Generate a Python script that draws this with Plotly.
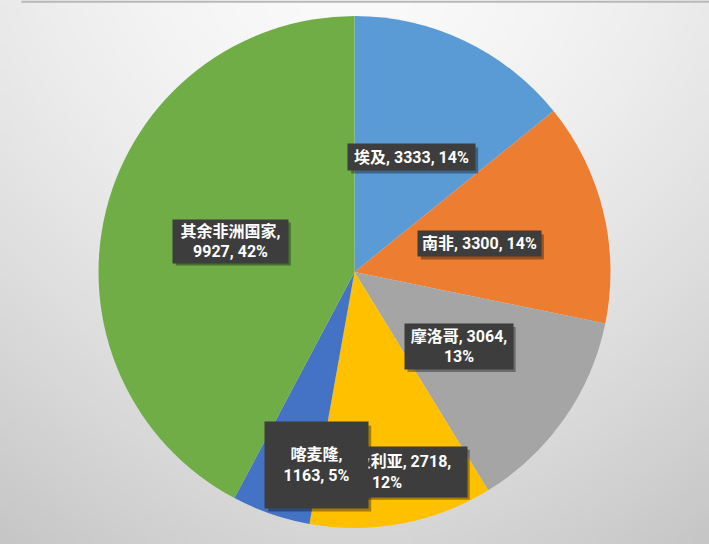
import base64
import struct
import zlib

import numpy as np
import plotly.graph_objects as go

# ---------------- data ----------------
countries = ["埃及", "南非", "摩洛哥", "阿尔及利亚", "喀麦隆", "其余非洲国家"]
counts = [3333, 3300, 3064, 2718, 1163, 9927]
colors = ["#5B9BD5", "#ED7D31", "#A5A5A5", "#FFC000", "#4472C4", "#70AD47"]
# where the data label wraps: 0 = one line, 1 = after name, 2 = before percent
label_wrap = [0, 0, 2, 2, 1, 1]

# label placement (fraction of radius, angular nudge in degrees) and box size (px)
label_r = [0.50, 0.50, 0.50, 0.79, 0.77, 0.50]
label_nudge = [1, 1, 0.5, 1.5, -8, 0]
box_w = [127, 123, 108, 160, 103, 115]
box_h = [26, 25, 45, 50, 86, 43]

W, H = 709, 544
PIE_TOP, PIE_BOT = 16, 528

# ---------------- background: soft gray gradient as a png ----------------
def gradient_png(w, h):
    xs = np.linspace(0, W, w)
    ys = np.linspace(0, H, h)
    gx, gy = np.meshgrid(xs, ys)
    u = np.abs(gx - W / 2) / (W / 2)
    v = gy / H
    b = 250 - 16 * u ** 1.6 - 36 * v ** 1.4
    b = np.clip(b, 0, 255).astype(np.uint8)
    raw = b"".join(b"\x00" + row.tobytes() for row in b)

    def chunk(tag, data):
        c = struct.pack(">I", len(data)) + tag + data
        return c + struct.pack(">I", zlib.crc32(tag + data) & 0xFFFFFFFF)

    png = b"\x89PNG\r\n\x1a\n"
    png += chunk(b"IHDR", struct.pack(">IIBBBBB", w, h, 8, 0, 0, 0, 0))
    png += chunk(b"IDAT", zlib.compress(raw, 9))
    png += chunk(b"IEND", b"")
    return "data:image/png;base64," + base64.b64encode(png).decode()


fig = go.Figure()

fig.add_trace(go.Pie(
    labels=countries,
    values=counts,
    sort=False,
    direction="clockwise",
    rotation=0,
    marker=dict(colors=colors, line=dict(width=0)),
    textinfo="none",
    hovertemplate="%{label}: %{value} (%{percent})<extra></extra>",
    domain=dict(x=[0, 1], y=[1 - PIE_BOT / H, 1 - PIE_TOP / H]),
    showlegend=False,
))

# ---------------- data labels (dark boxes) ----------------
vals = np.array(counts, dtype=float)
pcts = vals / vals.sum()
ends = np.cumsum(pcts) * 360
mids = ends - pcts * 180

cx = W / 2
cy = (PIE_TOP + PIE_BOT) / 2
radius = (PIE_BOT - PIE_TOP) / 2

font_fam = "Roboto, Noto Sans CJK SC, sans-serif"
annotations = []
shapes = [dict(type="line", xref="paper", yref="paper", x0=0.03, x1=1, y0=0.997, y1=0.997,
               line=dict(color="#B8B8B8", width=2))]
for i, name in enumerate(countries):
    pct = int(round(pcts[i] * 100))
    if label_wrap[i] == 1:
        txt = "%s,<br>%d, %d%%" % (name, counts[i], pct)
    elif label_wrap[i] == 2:
        txt = "%s, %d,<br>%d%%" % (name, counts[i], pct)
    else:
        txt = "%s, %d, %d%%" % (name, counts[i], pct)
    ang = np.radians(mids[i] + label_nudge[i])
    px = cx + radius * label_r[i] * np.sin(ang)
    py = cy - radius * label_r[i] * np.cos(ang)
    # drop shadow behind the box
    shapes.append(dict(
        type="rect", xref="paper", yref="paper", layer="above",
        x0=(px - box_w[i] / 2 + 3) / W, x1=(px + box_w[i] / 2 + 3) / W,
        y0=1 - (py + box_h[i] / 2 + 3) / H, y1=1 - (py - box_h[i] / 2 + 3) / H,
        fillcolor="rgba(0,0,0,0.35)", line=dict(width=0),
    ))
    annotations.append(dict(
        x=px / W, y=1 - py / H, xref="paper", yref="paper",
        xanchor="center", yanchor="middle",
        width=box_w[i], height=box_h[i], valign="middle",
        text=txt, showarrow=False, align="center", borderpad=0,
        bgcolor="#3D3D3D",
        font=dict(family=font_fam, size=16, color="white", weight="bold"),
    ))

fig.update_layout(
    width=W,
    height=H,
    margin=dict(l=0, r=0, t=0, b=0),
    paper_bgcolor="white",
    plot_bgcolor="white",
    annotations=annotations,
    shapes=shapes,
    images=[dict(
        source=gradient_png(142, 109),
        xref="paper", yref="paper", x=0, y=1, sizex=1, sizey=1,
        xanchor="left", yanchor="top", sizing="stretch", layer="below",
    )],
)

# page has an 8px default body margin; drop it so the chart sits at the corner
fig.write_html("out.html", config={"displayModeBar": False},
               post_script="document.body.style.margin='0';")
